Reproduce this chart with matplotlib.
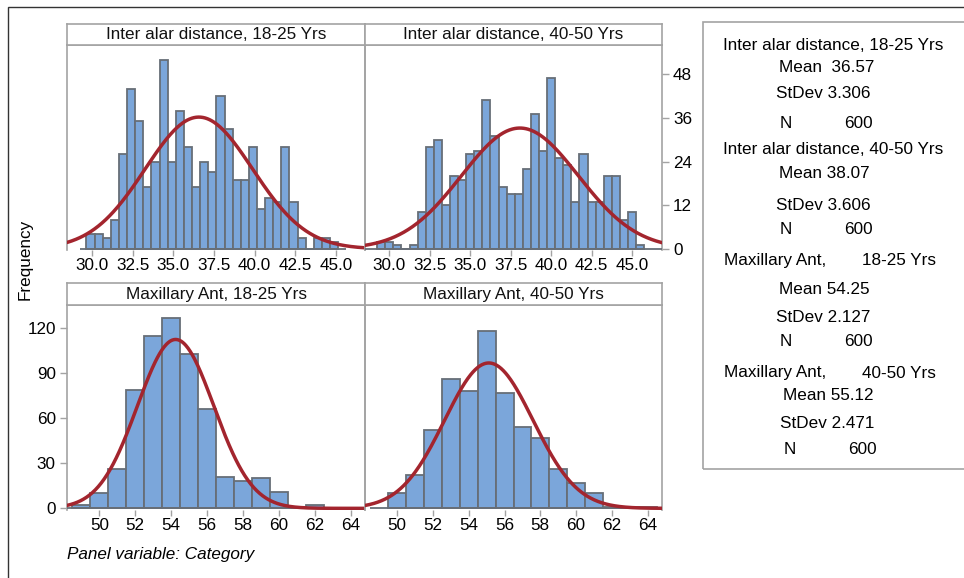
import numpy as np
import matplotlib.pyplot as plt
from matplotlib.patches import Rectangle

plt.rcParams['font.family'] = ['Liberation Sans', 'DejaVu Sans']

W, H = 964, 578

# bin counts
ia_young_counts = [4, 4, 3, 8, 26, 44, 35, 17, 24, 52, 24, 38, 28, 17, 24, 21,
                   42, 33, 19, 19, 28, 11, 14, 13, 28, 13, 3, 0, 3, 3, 2]
ia_young_start = 29.65
ia_old_counts = [2, 2, 1, 0, 1, 10, 28, 30, 12, 20, 19, 26, 27, 41, 31, 17, 15,
                 15, 22, 37, 27, 47, 25, 23, 13, 26, 13, 13, 20, 20, 8, 10, 1]
ia_old_start = 29.25
ma_young_counts = [2, 10, 26, 79, 115, 127, 103, 66, 21, 18, 20, 11, 0, 2]
ma_young_start = 48.5
ma_old_counts = [10, 22, 52, 86, 78, 118, 77, 54, 47, 26, 17, 10, 1, 1, 1]
ma_old_start = 49.5

panel_titles = ['Inter alar distance, 18-25 Yrs', 'Inter alar distance, 40-50 Yrs',
                'Maxillary Ant, 18-25 Yrs', 'Maxillary Ant, 40-50 Yrs']
means = [36.57, 38.07, 54.25, 55.12]
stdevs = [3.306, 3.606, 2.127, 2.471]
ns = [600, 600, 600, 600]

top_ticks = [30.0, 32.5, 35.0, 37.5, 40.0, 42.5, 45.0]
bot_ticks = [50, 52, 54, 56, 58, 60, 62, 64]
top_yticks = [0, 12, 24, 36, 48]
bot_yticks = [0, 30, 60, 90, 120]

BAR = '#7ba6da'
EDGE = '#676e77'
CURVE = '#a3252e'
FRAME = '#a3a3a3'
FS = 12.3


def box(x0, y0, x1, y1):
    return [x0 / W, 1 - y1 / H, (x1 - x0) / W, (y1 - y0) / H]


fig = plt.figure(figsize=(W / 100, H / 100), dpi=100)

# outer border (left / top visible)
fig.add_artist(Rectangle((8 / W, -0.1), 1.2, 1 - 7 / H + 0.1, transform=fig.transFigure,
                         fill=False, edgecolor='#333333', lw=1.0))

panels = [
    # counts, start, width, px box, strip box, xlim, ylim, baseline span
    (ia_young_counts, ia_young_start, 0.5, (67, 45, 365, 250), (67, 24, 365, 45),
     (28.45, 46.8), (-0.3, 56), (29.24, 45.64)),
    (ia_old_counts, ia_old_start, 0.5, (365, 45, 662, 250), (365, 24, 662, 45),
     (28.5, 46.85), (-0.3, 56), (28.5, 46.85)),
    (ma_young_counts, ma_young_start, 1.0, (67, 305, 365, 510), (67, 283, 365, 305),
     (48.2, 64.8), (-1.1, 135.5), (48.2, 64.5)),
    (ma_old_counts, ma_old_start, 1.0, (365, 305, 662, 510), (365, 283, 662, 305),
     (48.2, 64.8), (-1.1, 135.5), (48.5, 64.5)),
]

for i, (counts, start, bw, pbox, sbox, xlim, ylim, span) in enumerate(panels):
    ax = fig.add_axes(box(*pbox))
    edges = start + bw * np.arange(len(counts))
    ax.bar(edges, counts, width=bw, align='edge', color=BAR, edgecolor=EDGE, lw=1.3, zorder=2)
    ax.hlines(0, span[0], span[1], color=EDGE, lw=1.3, zorder=3)
    xs = np.linspace(xlim[0], xlim[1], 400)
    ys = ns[i] * bw / (stdevs[i] * np.sqrt(2 * np.pi)) * np.exp(-0.5 * ((xs - means[i]) / stdevs[i]) ** 2)
    ax.plot(xs, ys, color=CURVE, lw=2.5, zorder=4, solid_capstyle='round')
    ax.set_xlim(*xlim)
    ax.set_ylim(*ylim)
    for s in ['left', 'right', 'top']:
        ax.spines[s].set_color(FRAME)
        ax.spines[s].set_linewidth(1.2)
    ax.spines['bottom'].set_visible(False)
    if i < 2:
        ax.set_xticks(top_ticks)
        ax.set_xticklabels(['%.1f' % t for t in top_ticks])
    else:
        ax.set_xticks(bot_ticks)
    ax.tick_params(axis='x', length=4, width=1, color=FRAME, labelsize=FS, pad=2)
    if i == 1:
        ax.yaxis.tick_right()
        ax.set_yticks(top_yticks)
        ax.tick_params(axis='y', length=5, width=1, color=FRAME, labelsize=FS, pad=3)
    elif i == 2:
        ax.set_yticks(bot_yticks)
        ax.tick_params(axis='y', length=5, width=1, color=FRAME, labelsize=FS, pad=3)
    else:
        ax.set_yticks([])
    ax.patch.set_alpha(0)

    sax = fig.add_axes(box(*sbox))
    sax.set_xticks([])
    sax.set_yticks([])
    for s in sax.spines.values():
        s.set_color(FRAME)
        s.set_linewidth(1.2)
    sax.text(0.5, 0.5, panel_titles[i], ha='center', va='center', fontsize=FS,
             transform=sax.transAxes, color='#111111')

fig.text(25 / W, 1 - 259 / H, 'Frequency', rotation=90, ha='center', va='center', fontsize=FS)
fig.text(67 / W, 1 - 555 / H, 'Panel variable: Category', ha='left', va='center',
         fontsize=FS, style='italic')

# stats box
fig.add_artist(Rectangle((703 / W, 1 - 469 / H), 0.3, (469 - 22) / H, transform=fig.transFigure,
                         fill=False, edgecolor=FRAME, lw=1.2))

block_rows = [(45, 68, 94, 123), (150, 174, 205, 229), (261, 289, 317, 342), (373, 395, 423, 450)]
block_dx = [0, 0, 0, 4]
mean_gap = ['  ', ' ', ' ', ' ']
for k in range(4):
    yh, ym, ys_, yn = block_rows[k]
    dx = block_dx[k]
    if k < 2:
        fig.text(833 / W, 1 - yh / H, panel_titles[k], ha='center', va='center', fontsize=FS)
    else:
        name, grp = panel_titles[k].split(', ')
        fig.text(724 / W, 1 - yh / H, name + ',', ha='left', va='center', fontsize=FS)
        fig.text(862 / W, 1 - yh / H, grp, ha='left', va='center', fontsize=FS)
    fig.text((779 + dx) / W, 1 - ym / H, 'Mean' + mean_gap[k] + '%.2f' % means[k],
             ha='left', va='center', fontsize=FS)
    fig.text((776 + dx) / W, 1 - ys_ / H, 'StDev %.3f' % stdevs[k], ha='left', va='center', fontsize=FS)
    fig.text((780 + dx) / W, 1 - yn / H, 'N', ha='left', va='center', fontsize=FS)
    fig.text((873 + dx) / W, 1 - yn / H, str(ns[k]), ha='right', va='center', fontsize=FS)

fig.savefig('out.png', dpi=100)
